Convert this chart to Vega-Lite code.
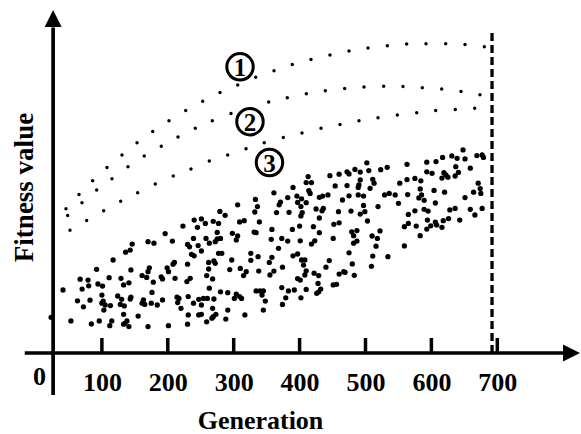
{
  "$schema": "https://vega.github.io/schema/vega-lite/v6.json",
  "width": 581,
  "height": 434,
  "autosize": {"type": "none"},
  "padding": 0,
  "background": "white",
  "config": {"view": {"stroke": null}},
  "datasets": {
    "scatter": [
      {"g":240,"f":44.3},{"g":245,"f":41.9},{"g":223,"f":42.3},{"g":196,"f":39.8},
      {"g":413,"f":58.8},{"g":410,"f":56.8},{"g":418,"f":56.8},{"g":446,"f":59.1},{"g":460,"f":59.6},{"g":454,"f":55.7},{"g":390,"f":55.2},{"g":361,"f":53.4},{"g":414,"f":54.1},{"g":416,"f":53.2},{"g":396,"f":52.3},{"g":403,"f":51.4},{"g":430,"f":51.9},{"g":435,"f":52.3},{"g":443,"f":52.7},{"g":465,"f":51},{"g":382,"f":51.8},{"g":371,"f":50.3},{"g":369,"f":49.4},{"g":397,"f":50.2},{"g":410,"f":50.1},{"g":402,"f":48.8},{"g":336,"f":48.8},{"g":333,"f":51.2},{"g":306,"f":49.4},{"g":425,"f":48},{"g":436,"f":48.2},{"g":434,"f":47.4},{"g":365,"f":46.8},{"g":384,"f":46.9},{"g":404,"f":46.8},{"g":402,"f":45.7},{"g":332,"f":47},{"g":430,"f":45},{"g":459,"f":47.1},{"g":279,"f":47.2},{"g":287,"f":45.9},{"g":251,"f":44.7},{"g":257,"f":43.2},{"g":269,"f":43.9},{"g":277,"f":43.2},{"g":309,"f":43.7},{"g":316,"f":44.1},{"g":339,"f":43.7},{"g":400,"f":42.3},{"g":358,"f":41.2},{"g":389,"f":41.2},{"g":421,"f":42.1},{"g":452,"f":42.9},{"g":460,"f":43.4},{"g":275,"f":40.2},{"g":298,"f":39.9},{"g":331,"f":40.3},{"g":334,"f":40.1},{"g":430,"f":40.1},
      {"g":648,"f":67.7},{"g":617,"f":65.2},{"g":631,"f":65.7},{"g":639,"f":64.9},{"g":651,"f":64.7},{"g":669,"f":65.8},{"g":677,"f":66},{"g":679,"f":65.2},{"g":607,"f":63.8},{"g":593,"f":63.6},{"g":563,"f":62.9},{"g":533,"f":61.9},{"g":523,"f":61.1},{"g":502,"f":63.4},{"g":505,"f":60.8},{"g":484,"f":61.2},{"g":492,"f":60.3},{"g":472,"f":60.4},{"g":475,"f":59.7},{"g":593,"f":60.4},{"g":601,"f":59.9},{"g":619,"f":60.1},{"g":622,"f":59.4},{"g":616,"f":58.3},{"g":625,"f":58.6},{"g":641,"f":60.2},{"g":636,"f":59},{"g":659,"f":61.6},{"g":637,"f":62.1},{"g":552,"f":56.6},{"g":563,"f":57.8},{"g":575,"f":58.2},{"g":584,"f":57.4},{"g":492,"f":57.7},{"g":511,"f":57.9},{"g":513,"f":56.6},{"g":507,"f":54.9},{"g":489,"f":55.2},{"g":490,"f":56},{"g":472,"f":55.8},{"g":583,"f":54.7},{"g":604,"f":54.2},{"g":620,"f":53.6},{"g":671,"f":56.6},{"g":664,"f":53.6},{"g":674,"f":54.8},{"g":675,"f":53.2},{"g":651,"f":51.8},{"g":475,"f":52.4},{"g":489,"f":52.7},{"g":497,"f":52.3},{"g":529,"f":52.7},{"g":536,"f":53.2},{"g":545,"f":52.7},{"g":564,"f":52.8},{"g":585,"f":52.7},{"g":581,"f":51.7},{"g":589,"f":50.9},{"g":550,"f":49.9},{"g":606,"f":50},{"g":497,"f":49.2},{"g":519,"f":48.8},{"g":478,"f":47.3},{"g":492,"f":46.3},{"g":499,"f":47.1},{"g":565,"f":46.2},{"g":575,"f":47.4},{"g":589,"f":47.9},{"g":595,"f":47.3},{"g":628,"f":47.7},{"g":636,"f":48.2},{"g":659,"f":47.9},{"g":677,"f":48.2},{"g":666,"f":46},{"g":503,"f":44},{"g":565,"f":43.2},{"g":594,"f":44.3},{"g":606,"f":43.6},{"g":618,"f":44.1},{"g":626,"f":44.8},{"g":643,"f":44.3},{"g":559,"f":42.1},{"g":577,"f":42.3},{"g":593,"f":41.3},{"g":599,"f":42.4},{"g":608,"f":42.7},{"g":616,"f":41.9},{"g":479,"f":40.4},{"g":487,"f":40.8},{"g":522,"f":40.7},
      {"g":146,"f":36.3},{"g":143,"f":34.3},{"g":136,"f":33.6},{"g":170,"f":37.1},{"g":179,"f":36.6},{"g":207,"f":37.3},{"g":239,"f":38.2},{"g":230,"f":36.2},{"g":233,"f":35.4},{"g":246,"f":35.8},{"g":236,"f":32.9},{"g":240,"f":32.4},{"g":117,"f":31},{"g":92,"f":27.9},{"g":144,"f":27.7},{"g":172,"f":28.4},{"g":170,"f":27.1},{"g":161,"f":25.8},{"g":168,"f":25.2},{"g":190,"f":25.4},{"g":192,"f":24.7},{"g":199,"f":28.4},{"g":201,"f":27.1},{"g":210,"f":30.2},{"g":208,"f":29.6},{"g":230,"f":29.6},{"g":211,"f":24.9},{"g":229,"f":23.8},{"g":234,"f":24.9},{"g":67,"f":24.6},{"g":79,"f":24.3},{"g":80,"f":22.4},{"g":94,"f":23},{"g":101,"f":22.3},{"g":70,"f":21.3},{"g":41,"f":21},{"g":111,"f":25.1},{"g":129,"f":24.9},{"g":133,"f":22.7},{"g":141,"f":23.4},{"g":178,"f":23.6},{"g":176,"f":20.2},{"g":100,"f":19.3},{"g":124,"f":19},{"g":130,"f":17.9},{"g":143,"f":18},{"g":144,"f":18.6},{"g":63,"f":17.4},{"g":82,"f":17.6},{"g":72,"f":15.4},{"g":100,"f":16.6},{"g":102,"f":17.3},{"g":105,"f":16},{"g":103,"f":14.3},{"g":113,"f":15.8},{"g":128,"f":16.2},{"g":134,"f":15.7},{"g":163,"f":17.7},{"g":165,"f":16.2},{"g":161,"f":16.6},{"g":175,"f":16.6},{"g":184,"f":16},{"g":192,"f":17.7},{"g":214,"f":18.6},{"g":217,"f":18.2},{"g":215,"f":16.8},{"g":220,"f":14.9},{"g":231,"f":18.8},{"g":239,"f":16.6},{"g":247,"f":17.9},{"g":155,"f":12.3},{"g":133,"f":12.9},{"g":138,"f":10.7},{"g":135,"f":9.9},{"g":133,"f":9.6},{"g":141,"f":8.8},{"g":96,"f":10.7},{"g":115,"f":10.7},{"g":112,"f":9.1},{"g":84,"f":9.7},{"g":53,"f":10.7},{"g":170,"f":8.8},{"g":201,"f":9.1},{"g":231,"f":12.7},{"g":230,"f":9.6},{"g":247,"f":12.7},
      {"g":258,"f":38.2},{"g":263,"f":36.6},{"g":272,"f":37.1},{"g":275,"f":38},{"g":280,"f":38.2},{"g":304,"f":37.7},{"g":306,"f":39},{"g":251,"f":34},{"g":277,"f":33.2},{"g":282,"f":33.2},{"g":262,"f":30.2},{"g":270,"f":30.7},{"g":272,"f":29.9},{"g":297,"f":31},{"g":262,"f":28},{"g":294,"f":27.8},{"g":310,"f":28.2},{"g":319,"f":27.1},{"g":315,"f":25.8},{"g":259,"f":25.8},{"g":268,"f":24.7},{"g":326,"f":33.2},{"g":326,"f":30.9},{"g":337,"f":32.1},{"g":338,"f":27.3},{"g":354,"f":30.2},{"g":358,"f":31.9},{"g":361,"f":27.3},{"g":355,"f":26},{"g":374,"f":28.6},{"g":368,"f":34.9},{"g":357,"f":37.9},{"g":373,"f":38.2},{"g":382,"f":37.3},{"g":401,"f":37.4},{"g":418,"f":36.3},{"g":423,"f":37.4},{"g":451,"f":38.2},{"g":390,"f":32.4},{"g":397,"f":33},{"g":403,"f":31},{"g":408,"f":31},{"g":406,"f":29.3},{"g":410,"f":27.4},{"g":408,"f":26},{"g":401,"f":24.3},{"g":397,"f":24.8},{"g":422,"f":26.6},{"g":429,"f":25.8},{"g":440,"f":28.6},{"g":445,"f":30.8},{"g":460,"f":26.3},{"g":467,"f":27.1},{"g":451,"f":22.7},{"g":456,"f":22.9},{"g":428,"f":23.2},{"g":432,"f":21.3},{"g":429,"f":20.4},{"g":426,"f":19.9},{"g":410,"f":21.2},{"g":392,"f":21},{"g":383,"f":20.7},{"g":373,"f":21.8},{"g":379,"f":18.4},{"g":374,"f":16.2},{"g":402,"f":18.4},{"g":263,"f":21.6},{"g":280,"f":20.4},{"g":291,"f":20.1},{"g":304,"f":19.6},{"g":301,"f":18.2},{"g":309,"f":18.8},{"g":312,"f":18.2},{"g":334,"f":20.7},{"g":340,"f":20.7},{"g":345,"f":20.7},{"g":343,"f":19.3},{"g":348,"f":17.3},{"g":345,"f":14.3},{"g":254,"f":18.2},{"g":260,"f":18.2},{"g":270,"f":18},{"g":251,"f":16},{"g":268,"f":14.9},{"g":269,"f":12.1},{"g":267,"f":11.6},{"g":273,"f":12.9},{"g":291,"f":14.3},{"g":251,"f":12.9},{"g":259,"f":10.4},{"g":288,"f":11.3},{"g":317,"f":12.7},
      {"g":482,"f":39.1},{"g":487,"f":37.3},{"g":482,"f":36.6},{"g":510,"f":39},{"g":518,"f":38.2},{"g":516,"f":35.6},{"g":475,"f":33.4},{"g":511,"f":32.3},{"g":534,"f":32.1},{"g":559,"f":35.7},{"g":583,"f":39.1},{"g":480,"f":29.7},{"g":469,"f":26.9},{"g":509,"f":28.9},{"g":483,"f":25.9},
      {"g":23,"f":11.9}
    ],
    "curves": [
      {"s":1,"g":45.5,"f":48.1},{"s":1,"g":65.3,"f":52.8},{"s":1,"g":86,"f":57.4},{"s":1,"g":107.7,"f":61.8},{"s":1,"g":130.5,"f":66},{"s":1,"g":153.3,"f":70.1},{"s":1,"g":177.1,"f":73.8},{"s":1,"g":201.8,"f":77.4},{"s":1,"g":227.2,"f":80.8},{"s":1,"g":253,"f":83.9},{"s":1,"g":279.2,"f":86.8},{"s":1,"g":306.1,"f":89.3},{"s":1,"g":333.4,"f":91.9},{"s":1,"g":361.2,"f":94.1},{"s":1,"g":388.9,"f":96.2},{"s":1,"g":417.3,"f":97.8},{"s":1,"g":446.1,"f":99.3},{"s":1,"g":475,"f":100.7},{"s":1,"g":503.8,"f":101.7},{"s":1,"g":533.1,"f":102.4},{"s":1,"g":562.5,"f":103},{"s":1,"g":591.8,"f":103.1},{"s":1,"g":621.7,"f":103.1},{"s":1,"g":651,"f":102.8},{"s":1,"g":680.3,"f":102.1},
      {"s":2,"g":48.1,"f":45.8},{"s":2,"g":69.8,"f":50.1},{"s":2,"g":92.1,"f":54.3},{"s":2,"g":115.3,"f":58.1},{"s":2,"g":139.6,"f":62.1},{"s":2,"g":164.3,"f":65.7},{"s":2,"g":190.1,"f":68.9},{"s":2,"g":215.5,"f":72},{"s":2,"g":241.7,"f":74.9},{"s":2,"g":267.5,"f":77.4},{"s":2,"g":295.9,"f":79.8},{"s":2,"g":353.1,"f":83.7},{"s":2,"g":381.3,"f":85.1},{"s":2,"g":410.2,"f":86.4},{"s":2,"g":439,"f":87.4},{"s":2,"g":468.4,"f":88.2},{"s":2,"g":497.7,"f":88.7},{"s":2,"g":527.6,"f":88.9},{"s":2,"g":556.9,"f":88.8},{"s":2,"g":586.2,"f":88.4},{"s":2,"g":615.6,"f":88},{"s":2,"g":644.9,"f":87.2},{"s":2,"g":673.7,"f":86.1},
      {"s":3,"g":51.6,"f":40.9},{"s":3,"g":76.9,"f":44.2},{"s":3,"g":102.7,"f":47.4},{"s":3,"g":128.5,"f":50.6},{"s":3,"g":154.3,"f":53.4},{"s":3,"g":181,"f":56.3},{"s":3,"g":208.3,"f":59},{"s":3,"g":235.2,"f":61.3},{"s":3,"g":263,"f":64},{"s":3,"g":290.9,"f":66},{"s":3,"g":318.7,"f":68.1},{"s":3,"g":346.4,"f":70.1},{"s":3,"g":375.3,"f":71.8},{"s":3,"g":403.6,"f":73.3},{"s":3,"g":432.5,"f":74.9},{"s":3,"g":461.3,"f":76.2},{"s":3,"g":490.1,"f":77.4},{"s":3,"g":519,"f":78.4},{"s":3,"g":548.3,"f":79.3},{"s":3,"g":577.7,"f":80.1},{"s":3,"g":606.5,"f":80.8},{"s":3,"g":636.3,"f":81.2},{"s":3,"g":665.7,"f":81.6}
    ],
    "circled": [
      {"n":"1","g":309.6,"f":95.4},
      {"n":"2","g":324.7,"f":77.1},
      {"n":"3","g":354.3,"f":63.5}
    ],
    "tickvals": [{"g":100},{"g":200},{"g":300},{"g":400},{"g":500},{"g":600},{"g":700}]
  },
  "layer": [
    {
      "data": {"name": "scatter"},
      "mark": {"type": "point", "shape": "circle", "filled": true, "size": 28, "color": "black", "opacity": 1},
      "encoding": {
        "x": {
          "field": "g", "type": "quantitative",
          "scale": {"domain": [-54.6, 827], "nice": false, "zero": false},
          "axis": {
            "orient": "bottom", "offset": -81, "domain": false, "ticks": false, "grid": false,
            "values": [0, 100, 200, 300, 400, 500, 600, 700],
            "labelFont": "Liberation Serif", "labelFontWeight": "bold", "labelFontSize": 26, "labelColor": "black",
            "labelPadding": {"condition": {"test": "datum.value == 0", "value": 10}, "value": 16},
            "labelOffset": {"condition": {"test": "datum.value == 0", "value": 3}, "value": 0},
            "labelOverlap": false, "labelFlush": false,
            "title": "Generation", "titleFont": "Liberation Serif", "titleFontWeight": "bold", "titleFontSize": 26, "titleColor": "black",
            "titleX": 260, "titleY": 75, "titleBaseline": "alphabetic", "titleAlign": "center"
          }
        },
        "y": {
          "field": "f", "type": "quantitative",
          "scale": {"domain": [-27, 117.667], "nice": false, "zero": false},
          "axis": {
            "orient": "left", "domain": false, "ticks": false, "labels": false, "grid": false,
            "title": "Fitness value", "titleFont": "Liberation Serif", "titleFontWeight": "bold", "titleFontSize": 27, "titleColor": "black",
            "titleX": 32, "titleY": 187, "titleAngle": -90, "titleBaseline": "alphabetic", "titleAlign": "center"
          }
        }
      }
    },
    {
      "data": {"name": "curves"},
      "mark": {"type": "point", "shape": "circle", "filled": true, "size": 12, "color": "black", "opacity": 1},
      "encoding": {
        "x": {"field": "g", "type": "quantitative"},
        "y": {"field": "f", "type": "quantitative"}
      }
    },
    {
      "data": {"values": [{}]},
      "mark": {"type": "rule", "strokeWidth": 3.7, "color": "black"},
      "encoding": {
        "x": {"datum": -17, "type": "quantitative"},
        "x2": {"datum": 804},
        "y": {"datum": 0, "type": "quantitative"}
      }
    },
    {
      "data": {"values": [{}]},
      "mark": {"type": "rule", "strokeWidth": 3.7, "color": "black"},
      "encoding": {
        "x": {"datum": 26, "type": "quantitative"},
        "y": {"datum": -14, "type": "quantitative"},
        "y2": {"datum": 108.5}
      }
    },
    {
      "data": {"values": [{}]},
      "mark": {"type": "point", "shape": "M -1 -1 L 1 0 L -1 1 Z", "filled": true, "size": 289, "color": "black", "opacity": 1},
      "encoding": {
        "x": {"datum": 812.6, "type": "quantitative"},
        "y": {"datum": 0, "type": "quantitative"}
      }
    },
    {
      "data": {"values": [{}]},
      "mark": {"type": "point", "shape": "M 0 -1 L 1 1 L -1 1 Z", "filled": true, "size": 289, "color": "black", "opacity": 1},
      "encoding": {
        "x": {"datum": 26, "type": "quantitative"},
        "y": {"datum": 111.5, "type": "quantitative"}
      }
    },
    {
      "data": {"name": "tickvals"},
      "mark": {"type": "rule", "strokeWidth": 3.5, "color": "black"},
      "encoding": {
        "x": {"field": "g", "type": "quantitative"},
        "y": {"datum": 0, "type": "quantitative"},
        "y2": {"datum": 5}
      }
    },
    {
      "data": {"values": [{}]},
      "mark": {"type": "rule", "strokeWidth": 3.3, "color": "black", "strokeDash": [8, 4]},
      "encoding": {
        "x": {"datum": 692, "type": "quantitative"},
        "y": {"datum": 0, "type": "quantitative"},
        "y2": {"datum": 108}
      }
    },
    {
      "data": {"name": "circled"},
      "mark": {"type": "point", "shape": "circle", "filled": false, "size": 700, "strokeWidth": 3, "color": "black", "opacity": 1},
      "encoding": {
        "x": {"field": "g", "type": "quantitative"},
        "y": {"field": "f", "type": "quantitative"}
      }
    },
    {
      "data": {"name": "circled"},
      "mark": {"type": "text", "font": "Liberation Serif", "fontSize": 25, "fontWeight": "bold", "color": "black", "align": "center", "baseline": "middle", "dy": 1},
      "encoding": {
        "x": {"field": "g", "type": "quantitative"},
        "y": {"field": "f", "type": "quantitative"},
        "text": {"field": "n"}
      }
    }
  ]
}
